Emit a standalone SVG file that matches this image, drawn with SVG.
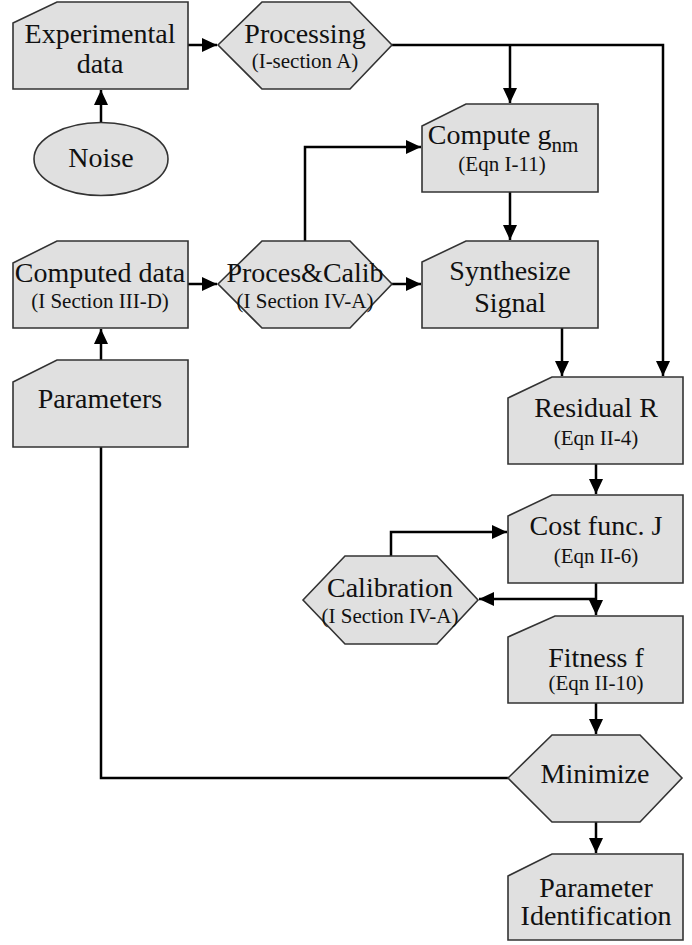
<svg xmlns="http://www.w3.org/2000/svg" width="692" height="945" viewBox="0 0 692 945">
<style>
.n{fill:#e0e0e0;stroke:#333;stroke-width:1.6}
.t{font-family:"Liberation Serif","Times New Roman",serif;font-size:28px;fill:#111;text-anchor:middle}
.s{font-family:"Liberation Serif","Times New Roman",serif;font-size:21px;fill:#111;text-anchor:middle}
.c{fill:none;stroke:#000;stroke-width:2.5}
</style>
<defs>
<marker id="a" markerUnits="userSpaceOnUse" markerWidth="15" markerHeight="14" refX="15" refY="7" orient="auto">
<path d="M0,0 L15,7 L0,14 z" fill="#000"/>
</marker>
</defs>
<g id="connectors">
<path class="c" d="M188,45 H217" marker-end="url(#a)"/>
<path class="c" d="M101,123 V90" marker-end="url(#a)"/>
<path class="c" d="M392,45 H663 V376" marker-end="url(#a)"/>
<path class="c" d="M510,45 V103" marker-end="url(#a)"/>
<path class="c" d="M510,192 V240" marker-end="url(#a)"/>
<path class="c" d="M188,284 H217" marker-end="url(#a)"/>
<path class="c" d="M392,284 H421" marker-end="url(#a)"/>
<path class="c" d="M305,241 V147 H421" marker-end="url(#a)"/>
<path class="c" d="M101,360 V329" marker-end="url(#a)"/>
<path class="c" d="M562,328 V376" marker-end="url(#a)"/>
<path class="c" d="M596,464 V494" marker-end="url(#a)"/>
<path class="c" d="M391,556 V532 H507" marker-end="url(#a)"/>
<path class="c" d="M596,583 V615" marker-end="url(#a)"/>
<path class="c" d="M596,599 H479" marker-end="url(#a)"/>
<path class="c" d="M596,703 V734" marker-end="url(#a)"/>
<path class="c" d="M508,778 H101 V447"/>
<path class="c" d="M596,822 V853" marker-end="url(#a)"/>
</g>
<g id="experimental">
<path class="n" d="M13,23 L57,2 H188 V89 H13 Z"/>
<text class="t" x="100" y="43">Experimental</text>
<text class="t" x="100" y="73">data</text>
</g>
<g id="processing">
<path class="n" d="M218,45 L262,2 H350 L392,45 L350,89 H262 Z"/>
<text class="t" x="305" y="43">Processing</text>
<text class="s" x="305" y="68">(I-section A)</text>
</g>
<g id="noise">
<ellipse class="n" cx="101" cy="159" rx="67" ry="36.5"/>
<text class="t" x="101" y="167">Noise</text>
</g>
<g id="compute">
<path class="n" d="M422,126 L466,104 H598 V192 H422 Z"/>
<text class="t" x="503" y="144">Compute g<tspan font-size="21px" dy="8">nm</tspan></text>
<text class="s" x="502" y="171">(Eqn I-11)</text>
</g>
<g id="computed">
<path class="n" d="M13,263 L57,241 H188 V328 H13 Z"/>
<text class="t" x="100" y="282">Computed data</text>
<text class="s" x="100" y="308">(I Section III-D)</text>
</g>
<g id="procescalib">
<path class="n" d="M218,284 L262,241 H350 L392,284 L350,328 H262 Z"/>
<text class="t" x="305" y="282">Proces&amp;Calib</text>
<text class="s" x="305" y="308">(I Section IV-A)</text>
</g>
<g id="synthesize">
<path class="n" d="M422,262 L466,241 H598 V328 H422 Z"/>
<text class="t" x="510" y="280">Synthesize</text>
<text class="t" x="510" y="312">Signal</text>
</g>
<g id="parameters">
<path class="n" d="M13,382 L57,360 H188 V447 H13 Z"/>
<text class="t" x="100" y="408">Parameters</text>
</g>
<g id="residual">
<path class="n" d="M508,398 L552,377 H683 V464 H508 Z"/>
<text class="t" x="596" y="417">Residual R</text>
<text class="s" x="596" y="445">(Eqn II-4)</text>
</g>
<g id="cost">
<path class="n" d="M508,516 L552,495 H683 V583 H508 Z"/>
<text class="t" x="596" y="535">Cost func. J</text>
<text class="s" x="596" y="563">(Eqn II-6)</text>
</g>
<g id="calibration">
<path class="n" d="M303,600 L345,556 H437 L478,600 L437,644 H345 Z"/>
<text class="t" x="390" y="597">Calibration</text>
<text class="s" x="390" y="623">(I Section IV-A)</text>
</g>
<g id="fitness">
<path class="n" d="M508,637 L555,616 H683 V703 H508 Z"/>
<text class="t" x="596" y="667">Fitness f</text>
<text class="s" x="596" y="690">(Eqn II-10)</text>
</g>
<g id="minimize">
<path class="n" d="M508,778 L552,735 H640 L682,778 L640,822 H552 Z"/>
<text class="t" x="595" y="783">Minimize</text>
</g>
<g id="paramid">
<path class="n" d="M508,876 L552,854 H683 V940 H508 Z"/>
<text class="t" x="596" y="897">Parameter</text>
<text class="t" x="596" y="925">Identification</text>
</g>
</svg>
